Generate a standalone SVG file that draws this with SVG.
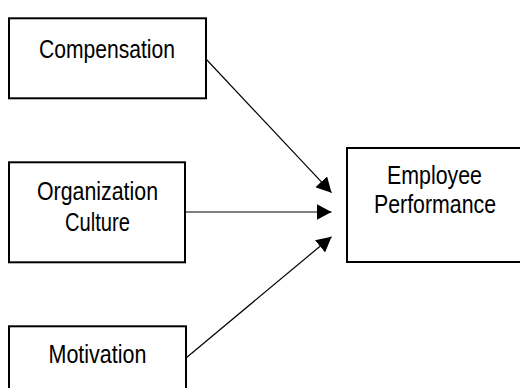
<svg xmlns="http://www.w3.org/2000/svg" width="520" height="388" viewBox="0 0 520 388">
  <style>
    .box { fill: #ffffff; stroke: #000000; stroke-width: 2; }
    .lbl { font-family: "Liberation Sans", Arial, sans-serif; font-size: 25px; fill: #000000; text-anchor: middle; }
    .edge { stroke: #000000; stroke-width: 1.2; fill: none; marker-end: url(#arrow); }
  </style>
  <defs>
    <marker id="arrow" markerUnits="userSpaceOnUse" markerWidth="16" markerHeight="16" refX="15" refY="8" orient="auto" viewBox="0 0 16 16">
      <path d="M0,0 L15,8 L0,16 z" fill="#000000"/>
    </marker>
  </defs>
  <rect width="520" height="388" fill="#ffffff"/>
  <g id="compensation">
    <rect class="box" x="9" y="18.3" width="197" height="80"/>
    <text class="lbl" x="107" y="58" textLength="136" lengthAdjust="spacingAndGlyphs">Compensation</text>
  </g>
  <g id="organization-culture">
    <rect class="box" x="9" y="162.3" width="176" height="100"/>
    <text class="lbl" x="97.5" y="200" textLength="121" lengthAdjust="spacingAndGlyphs">Organization</text>
    <text class="lbl" x="97.5" y="231" textLength="65" lengthAdjust="spacingAndGlyphs">Culture</text>
  </g>
  <g id="motivation">
    <rect class="box" x="9" y="326.3" width="177" height="90"/>
    <text class="lbl" x="97.5" y="363" textLength="98" lengthAdjust="spacingAndGlyphs">Motivation</text>
  </g>
  <g id="employee-performance">
    <rect class="box" x="347" y="148" width="190" height="114"/>
    <text class="lbl" x="434.5" y="184" textLength="95" lengthAdjust="spacingAndGlyphs">Employee</text>
    <text class="lbl" x="435" y="213" textLength="122" lengthAdjust="spacingAndGlyphs">Performance</text>
  </g>
  <g id="connectors">
    <line class="edge" x1="206" y1="59" x2="331.5" y2="192.7"/>
    <line class="edge" x1="185" y1="212" x2="331.5" y2="212"/>
    <line class="edge" x1="186" y1="358" x2="331.5" y2="236.7"/>
  </g>
</svg>
